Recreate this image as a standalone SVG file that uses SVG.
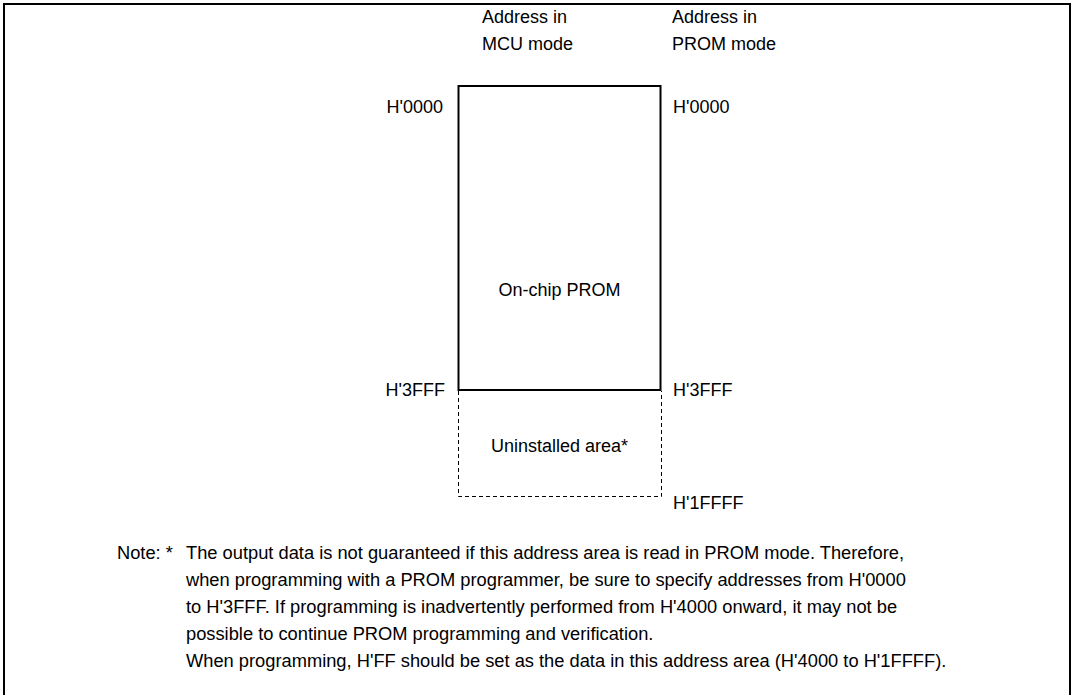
<svg xmlns="http://www.w3.org/2000/svg" width="1073" height="695" viewBox="0 0 1073 695">
<style>
text{font-family:"Liberation Sans",Arial,sans-serif;font-size:18px;fill:#000}
.r{text-anchor:end}
.m{text-anchor:middle}
.n{font-size:18.3px}
</style>
<rect x="0" y="0" width="1073" height="695" fill="#fff"/>
<rect x="4" y="4" width="1066" height="700" fill="none" stroke="#000" stroke-width="2"/>
<g id="headings">
<text x="482" y="23">Address in</text>
<text x="482" y="50">MCU mode</text>
<text x="672" y="23">Address in</text>
<text x="672" y="50">PROM mode</text>
</g>
<g id="prom">
<rect x="458.5" y="86" width="202" height="304" fill="none" stroke="#000" stroke-width="2"/>
<text class="m" x="559.5" y="296">On-chip PROM</text>
</g>
<g id="uninstalled">
<path d="M458.5 391V496.5H661.5V391" fill="none" stroke="#000" stroke-width="1" stroke-dasharray="4,3"/>
<text class="m" x="559.5" y="452">Uninstalled area*</text>
</g>
<g id="labels">
<text class="r" x="443" y="113">H'0000</text>
<text x="673" y="113">H'0000</text>
<text class="r" x="445" y="396">H'3FFF</text>
<text x="673" y="396">H'3FFF</text>
<text x="673" y="509">H'1FFFF</text>
</g>
<g id="connectors"></g>
<g id="note">
<text class="n" x="117" y="559">Note: *</text>
<text class="n" x="186" y="559">The output data is not guaranteed if this address area is read in PROM mode. Therefore,</text>
<text class="n" x="186" y="586">when programming with a PROM programmer, be sure to specify addresses from H'0000</text>
<text class="n" x="186" y="613">to H'3FFF. If programming is inadvertently performed from H'4000 onward, it may not be</text>
<text class="n" x="186" y="640">possible to continue PROM programming and verification.</text>
<text class="n" x="186" y="667">When programming, H'FF should be set as the data in this address area (H'4000 to H'1FFFF).</text>
</g>
</svg>
